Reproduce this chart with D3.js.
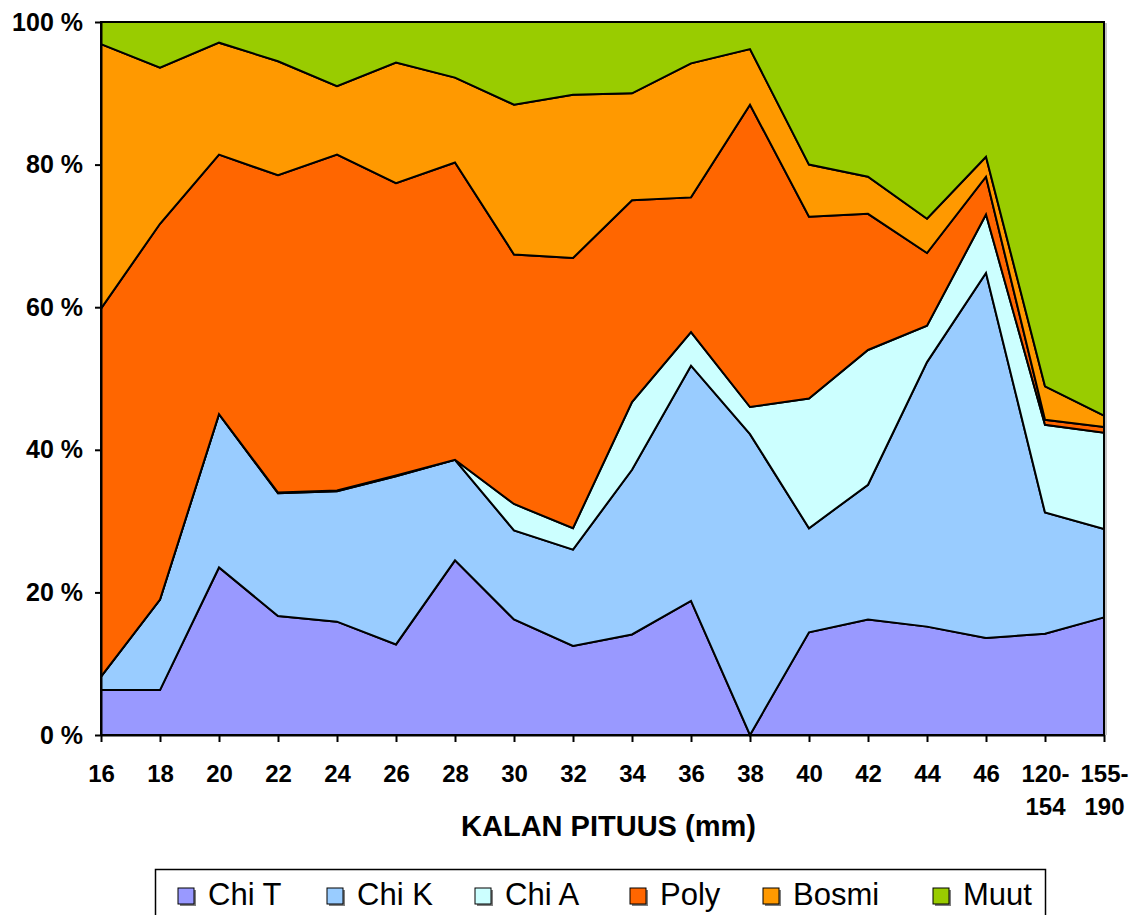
<!DOCTYPE html>
<html>
<head>
<meta charset="utf-8">
<script src="https://cdn.jsdelivr.net/npm/d3@7"></script>
<style>
  html, body { margin: 0; padding: 0; background: #fff; }
  svg { display: block; font-family: "Liberation Sans", Arial, sans-serif; }
</style>
</head>
<body>
<svg id="chart" width="1136" height="915"></svg>
<script>
// Fish length classes (mm)
const categories = ["16","18","20","22","24","26","28","30","32","34","36","38","40","42","44","46","120-154","155-190"];

// Diet composition, % of total per length class
const chiT  = [6.3, 6.3, 23.5, 16.7, 15.9, 12.7, 24.5, 16.2, 12.5, 14.1, 18.8, 0.0, 14.4, 16.2, 15.2, 13.6, 14.2, 16.5];
const chiK  = [1.9, 12.7, 21.5, 17.2, 18.3, 23.6, 14.1, 12.5, 13.5, 23.1, 33.0, 42.2, 14.6, 18.9, 37.1, 51.2, 17.0, 12.4];
const chiA  = [0.0, 0.0, 0.0, 0.1, 0.1, 0.1, 0.0, 3.7, 3.0, 9.5, 4.7, 3.8, 18.2, 18.9, 5.1, 8.2, 12.3, 13.5];
const poly  = [51.6, 52.7, 36.4, 44.5, 47.1, 41.0, 41.7, 35.0, 37.9, 28.3, 18.9, 42.4, 25.5, 19.1, 10.2, 5.3, 0.7, 0.8];
const bosmi = [37.1, 21.9, 15.7, 16.0, 9.6, 16.9, 11.9, 21.0, 22.9, 15.0, 18.8, 7.8, 7.3, 5.2, 4.8, 2.8, 4.7, 1.6];
const muut  = [3.1, 6.4, 2.9, 5.5, 9.0, 5.7, 7.8, 11.6, 10.2, 10.0, 5.8, 3.8, 20.0, 21.7, 27.6, 18.9, 51.1, 55.2];

const seriesNames  = ["Chi T", "Chi K", "Chi A", "Poly", "Bosmi", "Muut"];
const seriesValues = [chiT, chiK, chiA, poly, bosmi, muut];
const seriesColors = ["#9999FF", "#99CCFF", "#CCFFFF", "#FF6600", "#FF9900", "#99CC00"];

const yTicks = [0, 20, 40, 60, 80, 100];
const xTitle = "KALAN PITUUS (mm)";

const svg = d3.select("#chart");
const plot = { left: 101, right: 1104, top: 22, bottom: 735 };

// Rows for the stack layout
const rows = categories.map((c, i) => {
  const r = { cat: c };
  seriesNames.forEach((s, k) => { r[s] = seriesValues[k][i]; });
  return r;
});

const stack = d3.stack().keys(seriesNames).offset(d3.stackOffsetExpand);
const layers = stack(rows);

const x = d3.scalePoint().domain(categories).range([plot.left, plot.right]).padding(0);
const y = d3.scaleLinear().domain([0, 1]).range([plot.bottom, plot.top]);

const area = d3.area()
  .x(d => x(d.data.cat))
  .y0(d => y(d[0]))
  .y1(d => y(d[1]));

// faint shadow line on the right edge of the plot
svg.append("line")
  .attr("x1", plot.right + 2).attr("x2", plot.right + 2)
  .attr("y1", plot.top + 1).attr("y2", plot.bottom)
  .attr("stroke", "#b0b0b0").attr("stroke-width", 1.5);

// stacked areas
svg.append("g")
  .selectAll("path")
  .data(layers)
  .join("path")
  .attr("d", area)
  .attr("fill", (d, i) => seriesColors[i])
  .attr("stroke", "#000")
  .attr("stroke-width", 2)
  .attr("stroke-linejoin", "miter");

// Y axis
const yAxis = svg.append("g")
  .attr("transform", `translate(${plot.left},0)`)
  .call(d3.axisLeft(y)
    .tickValues(yTicks.map(v => v / 100))
    .tickSize(6)
    .tickSizeOuter(0)
    .tickPadding(12)
    .tickFormat(d => Math.round(d * 100) + " %"));
yAxis.select(".domain").attr("stroke", "#000").attr("stroke-width", 2);
yAxis.selectAll(".tick line").attr("stroke", "#000").attr("stroke-width", 2);
yAxis.selectAll(".tick text")
  .attr("fill", "#000")
  .attr("font-size", 25)
  .attr("font-weight", "bold")
  .attr("font-family", "'Liberation Sans', Arial, sans-serif");

// X axis
const xAxis = svg.append("g")
  .attr("transform", `translate(0,${plot.bottom})`)
  .call(d3.axisBottom(x).tickSize(7).tickSizeOuter(0));
xAxis.select(".domain").attr("stroke", "#000").attr("stroke-width", 2);
xAxis.selectAll(".tick line").attr("stroke", "#000").attr("stroke-width", 2);
xAxis.selectAll(".tick text")
  .attr("fill", "#000")
  .attr("font-size", 24)
  .attr("font-weight", "bold")
  .attr("font-family", "'Liberation Sans', Arial, sans-serif")
  .attr("y", 47)
  .attr("dy", 0)
  .text(null)
  .each(function (d) {
    const parts = d.includes("-") ? [d.split("-")[0] + "-", d.split("-")[1]] : [d];
    const t = d3.select(this);
    parts.forEach((p, i) => {
      t.append("tspan").attr("x", 0).attr("dy", i === 0 ? 0 : 33).text(p);
    });
  });

// X axis title
svg.append("text")
  .attr("x", (plot.left + plot.right) / 2 + 6)
  .attr("y", 836)
  .attr("text-anchor", "middle")
  .attr("font-size", 29)
  .attr("font-weight", "bold")
  .text(xTitle);

// Legend
const legend = svg.append("g");
legend.append("rect")
  .attr("x", 155.5).attr("y", 869.5)
  .attr("width", 890).attr("height", 80)
  .attr("fill", "#fff").attr("stroke", "#000").attr("stroke-width", 1.5);

const legendX = [178, 327, 475, 630, 763, 933];
const items = legend.selectAll("g.item")
  .data(seriesNames)
  .join("g")
  .attr("class", "item")
  .attr("transform", (d, i) => `translate(${legendX[i]},0)`);
items.append("rect")
  .attr("x", 2).attr("y", 890).attr("width", 16).attr("height", 16)
  .attr("fill", "#808080");
items.append("rect")
  .attr("x", 0).attr("y", 888).attr("width", 16).attr("height", 16)
  .attr("fill", (d, i) => seriesColors[i])
  .attr("stroke", "#000").attr("stroke-width", 1);
items.append("text")
  .attr("x", 30).attr("y", 905)
  .attr("font-size", 31)
  .attr("fill", "#000")
  .text(d => d);
</script>
</body>
</html>
